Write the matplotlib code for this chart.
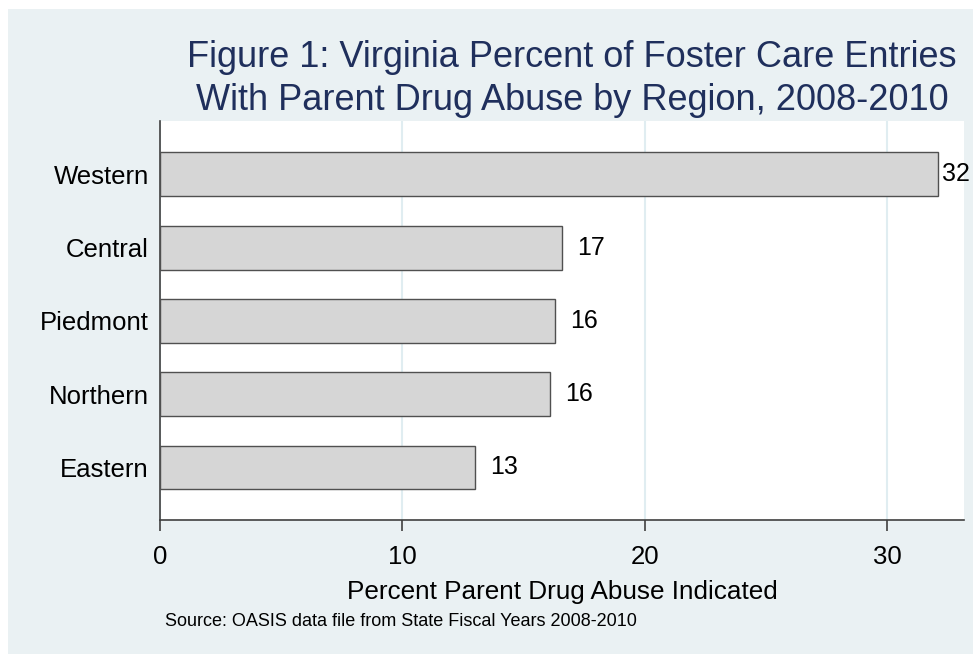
#!/usr/bin/env python
"""
Horizontal bar chart: Virginia foster care entries with parent drug abuse, by region.
"""

import matplotlib
matplotlib.use('Agg')
import matplotlib.pyplot as plt
from matplotlib.patches import Rectangle

# Data
regions = ['Western', 'Central', 'Piedmont', 'Northern', 'Eastern']
percent = [32.1, 16.6, 16.3, 16.1, 13.0]
x_ticks = [0, 10, 20, 30]

title = ('Figure 1: Virginia Percent of Foster Care Entries\n'
         'With Parent Drug Abuse by Region, 2008-2010')
x_label = 'Percent Parent Drug Abuse Indicated'
source = 'Source: OASIS data file from State Fiscal Years 2008-2010'

W, H = 973, 654
plt.rcParams['font.family'] = ['Liberation Sans', 'DejaVu Sans']

fig = plt.figure(figsize=(W / 100, H / 100), dpi=100, facecolor='white')

# light outer panel (Stata-like), white sliver at the top and left
bg = Rectangle((8 / W, 0), 1 - 8 / W, 1 - 9 / H, transform=fig.transFigure,
               facecolor='#EAF1F3', edgecolor='none', zorder=-10)
fig.add_artist(bg)

left, right, top, bottom = 160, 964, 120.7, 520
ax = fig.add_axes([left / W, 1 - bottom / H, (right - left) / W, (bottom - top) / H])
ax.set_zorder(1)
ax.set_facecolor('white')

y = list(range(len(regions)))
ax.barh(y, percent, height=0.6, color='#D6D6D6', edgecolor='#505050',
        linewidth=1.0, zorder=3)

# value labels, kept inside the panel
for yi, v in zip(y, percent):
    ax.text(min(v + 0.6, 32.25), yi, f'{v:.0f}', va='center', ha='left',
            fontsize=18, color='black', zorder=4, clip_on=False)

ax.set_xlim(0, 33.17)
ax.set_ylim(4.717, -0.734)
ax.set_xticks(x_ticks)
ax.set_yticks(y)
ax.set_yticklabels(regions)
ax.tick_params(axis='y', length=0, pad=8, labelsize=18.5)
ax.tick_params(axis='x', length=8, width=1.2, color='#404040', pad=10,
               labelsize=18.5)

ax.grid(axis='x', color='#E0EDF1', linewidth=1.5, zorder=0)
ax.set_axisbelow(True)

for s in ['top', 'right']:
    ax.spines[s].set_visible(False)
for s in ['left', 'bottom']:
    ax.spines[s].set_color('#404040')
    ax.spines[s].set_linewidth(1.2)

ax.set_xlabel(x_label, fontsize=18.8, labelpad=8)

fig.text(572 / W, 1 - 79 / H, title, ha='center', va='center',
         fontsize=26, color='#1F2F5C', linespacing=1.33)
fig.text(165 / W, 1 - 622 / H, source, ha='left', va='center', fontsize=13)

fig.savefig('out.png', dpi=100, facecolor=fig.get_facecolor())
